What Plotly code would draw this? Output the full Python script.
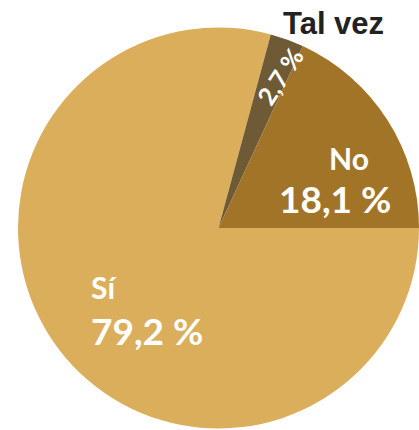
import plotly.graph_objects as go

labels = ["Sí", "Tal vez", "No"]
values = [79.2, 2.7, 18.1]
colors = ["#DBAE5C", "#6E5A35", "#A27427"]

def fmt(v):
    return f"{v:.1f}".replace(".", ",") + " %"

fig = go.Figure(go.Pie(
    labels=labels, values=values, sort=False,
    direction="clockwise", rotation=90,
    marker=dict(colors=colors, line=dict(width=0)),
    textinfo="none", textposition="inside", hoverinfo="label+percent", showlegend=False,
))

FONT = "Lato"
ann = [
    dict(text=f"<b>{labels[1]}</b>", x=0.786, y=1.005, xanchor="center", yanchor="middle",
         font=dict(family="Liberation Sans", size=31, color="#222222")),
    dict(text=f"<b>{fmt(values[1])}</b>", x=0.653, y=0.876, xanchor="center", yanchor="middle",
         textangle=-57, font=dict(family=FONT, size=25, color="white")),
    dict(text=f"<b>{labels[2]}</b>", x=0.825, y=0.673, xanchor="center", yanchor="middle",
         font=dict(family=FONT, size=30, color="white")),
    dict(text=f"<b>{fmt(values[2])}</b>", x=0.79, y=0.574, xanchor="center", yanchor="middle",
         font=dict(family=FONT, size=37, color="white")),
    dict(text=f"<b>{labels[0]}</b>", x=0.176, y=0.354, xanchor="left", yanchor="middle",
         font=dict(family=FONT, size=30, color="white")),
    dict(text=f"<b>{fmt(values[0])}</b>", x=0.176, y=0.2475, xanchor="left", yanchor="middle",
         font=dict(family=FONT, size=37, color="white")),
]
for a in ann:
    a.update(xref="paper", yref="paper", showarrow=False)

fig.update_layout(
    width=419, height=430,
    margin=dict(l=18, r=0, t=26, b=0),
    paper_bgcolor="white", plot_bgcolor="white",
    annotations=ann,
)
fig.write_html("out.html", config={"displayModeBar": False},
               post_script="document.body.style.margin='0px';document.body.style.overflow='hidden';")
